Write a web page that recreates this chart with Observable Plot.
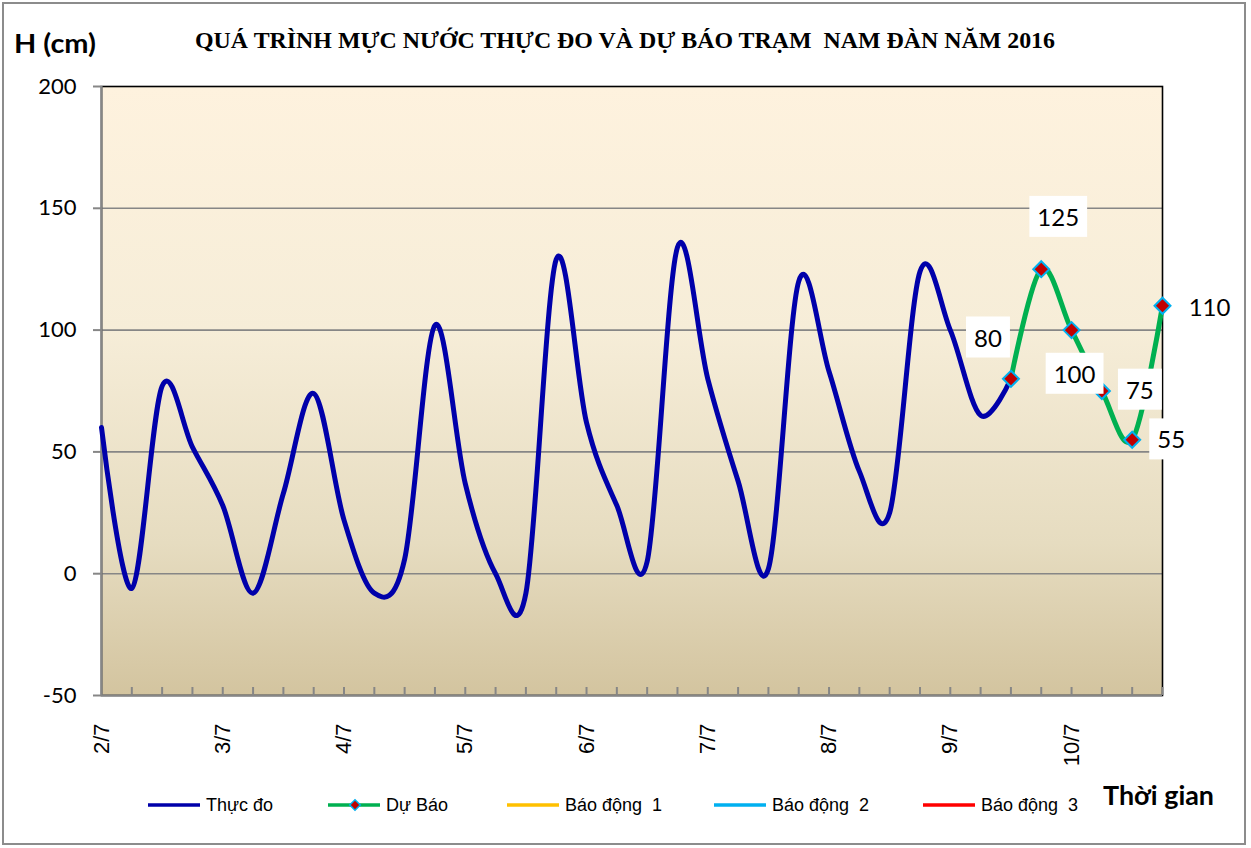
<!DOCTYPE html>
<html>
<head>
<meta charset="utf-8">
<script src="https://cdn.jsdelivr.net/npm/d3@7"></script>
<script src="https://cdn.jsdelivr.net/npm/@observablehq/plot@0.6"></script>
<style>
  body { margin: 0; background: #fff; }
  #chart { position: relative; width: 1251px; height: 848px; overflow: hidden; background: #fff; }
  #border { position: absolute; left: 2px; top: 2px; width: 1244px; height: 843px; border: 2px solid #8c8c8c; box-sizing: border-box; }
  #plot { position: absolute; left: 0; top: 0; }
  .lbl { position: absolute; white-space: nowrap; line-height: 1; color: #000; }
  #title { font-family: "Liberation Serif", "Times New Roman", serif; font-weight: bold; font-size: 24px; transform-origin: 0 50%; }
  #ytitle { font-family: Lato, "Open Sans", sans-serif; font-weight: bold; font-size: 26px; transform-origin: 0 50%; }
  #xtitle { font-family: Lato, "Open Sans", sans-serif; font-weight: bold; font-size: 26px; transform-origin: 0 50%; }
  .leg { position: absolute; top: 795px; height: 20px; display: flex; align-items: center; font-family: "Liberation Sans", Arial, sans-serif; font-size: 18px; white-space: nowrap; }
  .leg svg { margin-right: 4px; }
</style>
</head>
<body>
<div id="chart">
  <div id="border"></div>
  <div id="plot"></div>
  <div class="lbl" id="title">QUÁ TRÌNH MỰC NƯỚC THỰC ĐO VÀ DỰ BÁO TRẠM&nbsp; NAM ĐÀN NĂM 2016</div>
  <div class="lbl" id="ytitle">H (cm)</div>
  <div class="lbl" id="xtitle">Thời gian</div>
  <div id="legend"></div>
</div>
<script>
// ---- data ----
const dayLabels = ["2/7", "3/7", "4/7", "5/7", "6/7", "7/7", "8/7", "9/7", "10/7"];
const stepsPerDay = 4; // 6-hourly observations
const observed = [60, -6, 77, 52, 28, -8, 33, 74, 22, -8, 6, 102, 37, 0, -8, 129, 62, 28, 5, 134, 80, 38, 2, 120, 83, 42, 25, 124, 100, 65, 80];
const forecast = [80, 125, 100, 75, 55, 110];
const yTicks = [-50, 0, 50, 100, 150, 200];
const seriesNames = ["Thực đo", "Dự Báo", "Báo động  1", "Báo động  2", "Báo động  3"];
const seriesColors = ["#0000AA", "#00B050", "#FFC000", "#00B0F0", "#FF0000"];

// label offsets (pixels) for forecast data labels
const labelDx = [-23, 17, 3, 38, 39, 47];
const labelDy = [-40, -51, 45, 0, 1, 3];

const forecastStart = observed.length - 1;
const nSteps = forecastStart + forecast.length; // number of points
const obsData = observed.map((h, i) => ({ i, h }));
const fcData = forecast.map((h, k) => ({ i: forecastStart + k, h }));

const W = 1251, H = 780;
const gradient = () => {
  const defs = d3.create("svg:defs");
  const g = defs.append("linearGradient").attr("id", "bg").attr("x1", 0).attr("y1", 0).attr("x2", 0).attr("y2", 1);
  [["0%", "#FEF2DE"], ["40%", "#F6EDD8"], ["75%", "#E6DCC0"], ["100%", "#D3C49F"]]
    .forEach(([o, c]) => g.append("stop").attr("offset", o).attr("stop-color", c));
  return defs.node();
};

const labelMarks = fcData.map((d, k) => Plot.text([d], {
  x: "i", y: "h", text: d => String(d.h),
  dx: labelDx[k], dy: labelDy[k],
  fontSize: 24, fontFamily: "Lato", fill: "#000"
}));

const plot = Plot.plot({
  width: W, height: H,
  marginLeft: 101, marginRight: 89, marginTop: 86, marginBottom: H - 695,
  style: { background: "transparent", fontFamily: "Lato", color: "#000", overflow: "visible" },
  x: { type: "linear", domain: [0, nSteps - 1], axis: null, label: null },
  y: { domain: [-50, 200], axis: null, label: null },
  marks: [
    gradient,
    Plot.frame({ fill: "url(#bg)" }),
    Plot.gridY(yTicks.filter(t => t > -50 && t < 200), { stroke: "#868686", strokeOpacity: 1, strokeWidth: 1.6 }),
    Plot.frame({ stroke: "#000", strokeWidth: 1.6 }),
    Plot.ruleX([0], { stroke: "#868686", strokeWidth: 2.2 }),
    Plot.ruleY([-50], { stroke: "#868686", strokeWidth: 2.2 }),
    Plot.axisY(yTicks, { label: null, tickSize: 8, tickPadding: 17, tickFormat: d => String(d), fontSize: 22, fontFamily: "Lato", stroke: "#868686", strokeWidth: 2, fill: "#000" }),
    Plot.axisX(d3.range(1, nSteps), { label: null, tickSize: -8, tickFormat: () => "", stroke: "#868686", strokeWidth: 2 }),
    Plot.axisX(dayLabels.map((_, j) => j * stepsPerDay), {
      label: null, tickSize: 0, tickPadding: 28, tickRotate: -90,
      tickFormat: i => dayLabels[i / stepsPerDay],
      fontSize: 22, fontFamily: "Liberation Sans", fill: "#000"
    }),
    Plot.line(obsData, { x: "i", y: "h", stroke: seriesColors[0], strokeWidth: 5, curve: "cardinal", tension: 0 }),
    Plot.line(fcData, { x: "i", y: "h", stroke: seriesColors[1], strokeWidth: 5, curve: "cardinal", tension: 0 }),
    Plot.dot(fcData, { x: "i", y: "h", symbol: "diamond2", r: 7.2, fill: "#C00000", stroke: "#00B0F0", strokeWidth: 2 }),
    ...labelMarks
  ]
});
document.getElementById("plot").appendChild(plot);

// white boxes behind data labels (text marks that are not axis labels)
const fcStrings = new Set(forecast.map(String));
plot.querySelectorAll("text").forEach(t => {
  const g = t.closest("g");
  const aria = (g && g.getAttribute("aria-label")) || "";
  if (aria.includes("axis") || !fcStrings.has(t.textContent)) return;
  const b = t.getBBox();
  const px = 8, py = 6;
  const r = document.createElementNS("http://www.w3.org/2000/svg", "rect");
  r.setAttribute("x", b.x - px);
  r.setAttribute("y", b.y - py);
  r.setAttribute("width", b.width + 2 * px);
  r.setAttribute("height", b.height + 2 * py);
  r.setAttribute("fill", "#fff");
  if (t.getAttribute("transform")) r.setAttribute("transform", t.getAttribute("transform"));
  t.parentNode.insertBefore(r, t);
});

// place HTML titles, fitting widths
function place(id, left, centerY, targetWidth) {
  const el = document.getElementById(id);
  const w = el.getBoundingClientRect().width;
  const h = el.getBoundingClientRect().height;
  el.style.left = left + "px";
  el.style.top = (centerY - h / 2) + "px";
  if (targetWidth) el.style.transform = `scaleX(${targetWidth / w})`;
}
place("title", 195, 40, 860);
place("ytitle", 14, 43, 82);
place("xtitle", 1103, 795, 111);

// legend
const legendX = [148, 328, 507, 714, 923];
const legend = document.getElementById("legend");
seriesNames.forEach((name, k) => {
  const item = document.createElement("div");
  item.className = "leg";
  item.style.left = legendX[k] + "px";
  const svg = d3.create("svg").attr("width", 54).attr("height", 20);
  svg.append("line").attr("x1", 0).attr("x2", 52).attr("y1", 10).attr("y2", 10)
    .attr("stroke", seriesColors[k]).attr("stroke-width", 3.5);
  if (k === 1) {
    svg.append("path").attr("d", d3.symbol(d3.symbolDiamond2, 70)()).attr("transform", "translate(27,10)")
      .attr("fill", "#C00000").attr("stroke", "#00B0F0").attr("stroke-width", 1.5);
  }
  item.appendChild(svg.node());
  const span = document.createElement("span");
  span.textContent = name;
  span.style.whiteSpace = "pre";
  item.appendChild(span);
  legend.appendChild(item);
});
</script>
</body>
</html>
